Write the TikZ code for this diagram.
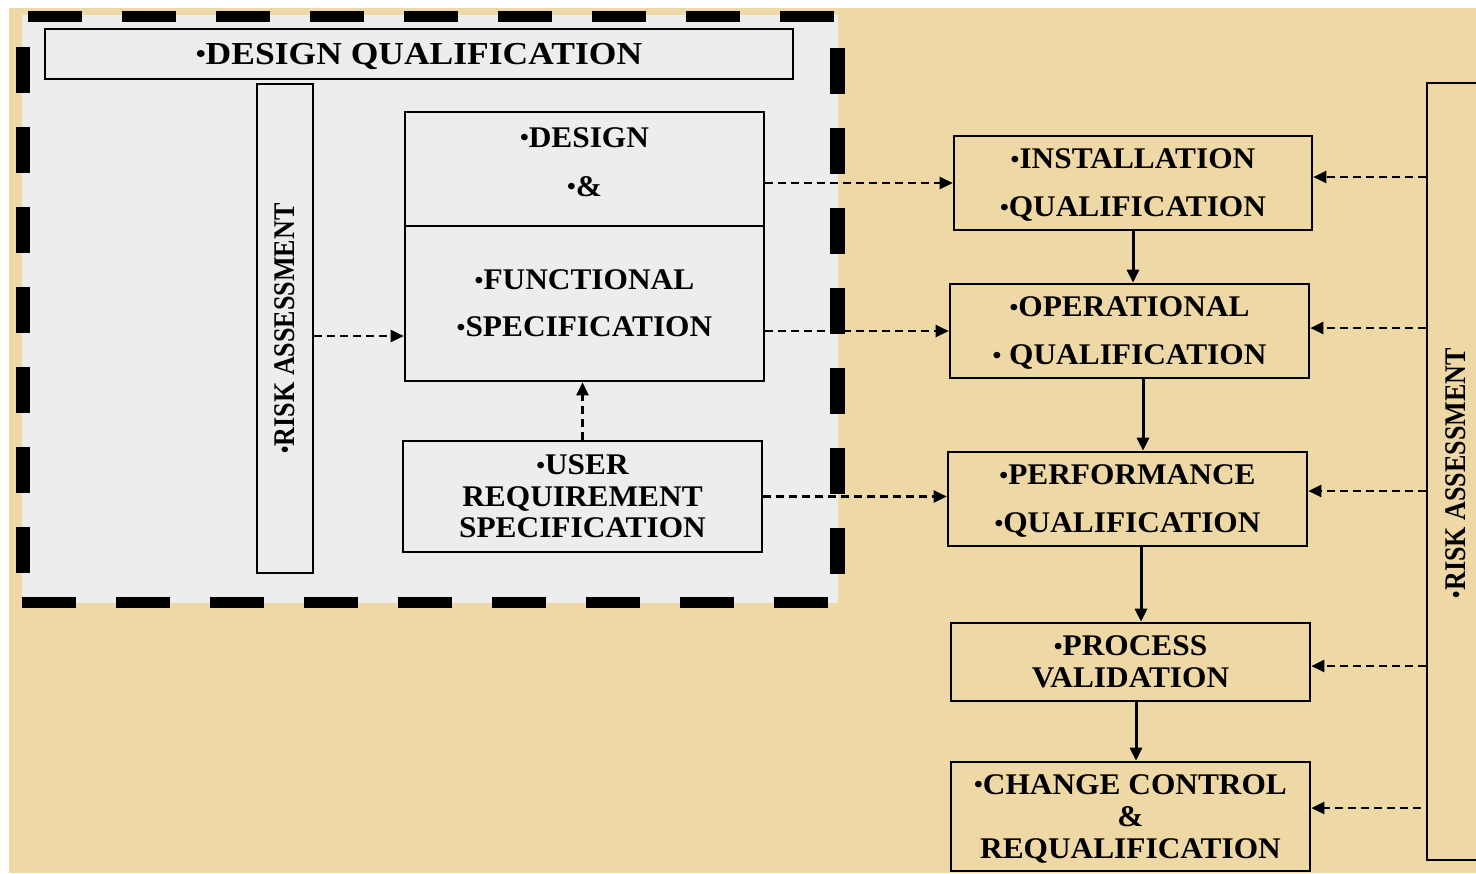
\documentclass[tikz,border=0pt]{standalone}
\usepackage{fontspec}
\usepackage{graphicx}
\setmainfont{Liberation Serif}[FakeStretch=1.045]
\newfontfamily\dqfont{Liberation Serif}[FakeStretch=1.11]
\newfontfamily\condfont{Liberation Serif}[FakeStretch=0.87]
\newcommand\sbul{\raisebox{0.9pt}{\scalebox{0.8}{•}}}
\usetikzlibrary{arrows.meta,calc}
\definecolor{papyrus}{RGB}{238,217,166}
\definecolor{panel}{RGB}{237,237,237}
\tikzset{
  box/.style={draw=black, line width=1.3pt, inner sep=0pt, align=center, text depth=0pt,
    font=\bfseries\fontsize{15}{24}\selectfont},
  lbl/.style={inner sep=0pt, font=\condfont\bfseries\fontsize{15}{18}\selectfont},
  tipp/.style={-{Triangle[length=6.5pt,width=6pt]}},
  dar/.style={tipp, line width=1.2pt, dash pattern=on 4pt off 2.5pt},
  sar/.style={tipp, line width=1.5pt},
}
\begin{document}
\begin{tikzpicture}[x=0.5pt,y=-0.5pt]
\useasboundingbox (0,0) rectangle (1476,873);
% background
\fill[papyrus] (9,8) rectangle (1476,873);
\fill[panel] (22,15) rectangle (838,603);
% dashed panel border
\draw[line width=5.5pt, dash pattern=on 27pt off 20pt] (28,16.5) -- (838,16.5);
\draw[line width=5.5pt, dash pattern=on 27pt off 20pt] (22,602) -- (830,602);
\draw[line width=7pt, dash pattern=on 23pt off 17pt] (23,47) -- (23,575);
\draw[line width=7.5pt, dash pattern=on 23pt off 17pt] (837.5,48) -- (837.5,576);

% left side
\node[box, minimum width=374pt, minimum height=25pt,
      font=\dqfont\bfseries\fontsize{16}{20}\selectfont] (dq) at (419,54) {\sbul DESIGN QUALIFICATION};
\node[box, minimum width=28pt, minimum height=244.5pt] (rl) at (285,328.5) {};
\node[lbl, rotate=90] (rlt) at (rl.center) {\sbul RISK ASSESSMENT};
\node[box, minimum width=179.5pt, minimum height=57pt, text depth=7pt,
      font=\bfseries\fontsize{15}{24.5}\selectfont] (dsgn) at (584.5,169)
      {\sbul DESIGN\\\sbul\&};
\node[box, minimum width=179.5pt, minimum height=77.5pt,
      font=\bfseries\fontsize{15}{23.5}\selectfont] (fs) at (584.5,303.5)
      {\sbul FUNCTIONAL\\\sbul SPECIFICATION};
\node[box, minimum width=179.5pt, minimum height=55.5pt,
      font=\bfseries\fontsize{15}{15.75}\selectfont] (urs) at (582.5,496.5)
      {\sbul USER\\REQUIREMENT\\SPECIFICATION};

% right column
\node[box, minimum width=179pt, minimum height=47pt] (iq) at (1133,183)
      {\sbul INSTALLATION\\\sbul QUALIFICATION};
\node[box, minimum width=179.5pt, minimum height=47pt] (oq) at (1129.5,331)
      {\sbul OPERATIONAL\\\sbul\ QUALIFICATION};
\node[box, minimum width=179.5pt, minimum height=47pt] (pq) at (1127.5,499)
      {\sbul PERFORMANCE\\\sbul QUALIFICATION};
\node[box, minimum width=179.5pt, minimum height=39pt,
      font=\bfseries\fontsize{15}{16}\selectfont] (pv) at (1130.5,662)
      {\sbul PROCESS\\VALIDATION};
\node[box, minimum width=179.5pt, minimum height=54.5pt,
      font=\bfseries\fontsize{15}{16}\selectfont] (cc) at (1130.5,816.5)
      {\sbul CHANGE CONTROL\\\&\\REQUALIFICATION};
\node[box, line width=1.1pt, minimum width=31.5pt, minimum height=388.5pt] (rr) at (1458.5,471.5) {};
\node[lbl, rotate=90] (rrt) at (1456,473) {\sbul RISK ASSESSMENT};

% connectors, left part
\coordinate (a1) at ($(rl.east)+(0,7.5)$);
\draw[dar] (a1) -- (a1 -| fs.west);
\draw[dar] (urs.north) -- (urs.north |- fs.south);
\draw[dar] (iq.west -| dsgn.east) -- (iq.west);
\draw[dar] (oq.west -| fs.east) -- (oq.west);
\draw[dar] (urs.east) -- (urs.east -| pq.west);

% solid chain
\draw[sar] (iq.south) -- (iq.south |- oq.north);
\coordinate (b2) at ($(oq.south)+(13.5,0)$);
\draw[sar] (b2) -- (b2 |- pq.north);
\coordinate (b3) at ($(pq.south)+(13.5,0)$);
\draw[sar] (b3) -- (b3 |- pv.north);
\coordinate (b4) at ($(pv.south)+(5.5,0)$);
\draw[sar] (b4) -- (b4 |- cc.north);

% risk assessment feedbacks
\coordinate (c1) at ($(iq.east)+(0,-6)$);
\draw[dar] (c1 -| rr.west) -- (c1);
\coordinate (c2) at ($(oq.east)+(0,-3)$);
\draw[dar] (c2 -| rr.west) -- (c2);
\coordinate (c3) at ($(pq.east)+(0,-8)$);
\draw[dar] (c3 -| rr.west) -- (c3);
\coordinate (c4) at ($(pv.east)+(0,4)$);
\draw[dar] (c4 -| rr.west) -- (c4);
\coordinate (c5) at ($(cc.east)+(0,-8.5)$);
\draw[dar] ($(c5 -| rr.west)+(-5,0)$) -- (c5);
\end{tikzpicture}
\end{document}
